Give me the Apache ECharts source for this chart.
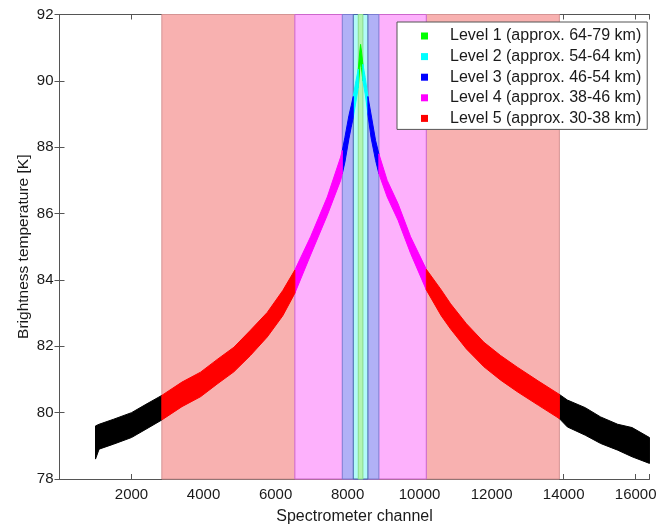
<!DOCTYPE html>
<html>
<head>
<meta charset="utf-8">
<script src="https://cdn.jsdelivr.net/npm/echarts@6/dist/echarts.min.js"></script>
<style>html,body{margin:0;padding:0;background:#fff}#c{width:667px;height:527px}</style>
</head>
<body>
<div id="c"></div>
<script>
// Spectrometer channel sample points with the upper / lower edge of the noisy trace (K)
const channel = [1000,1100,1500,2000,2400,2842,3400,3917,4400,4842,5300,5769,6200,6536,6972,7436,7806,7853,7926,8036,8100,8158,8220,8297,8340,8361,8385,8425,8490,8564,8650,8778,8869,9100,9400,9750,10186,10600,10861,11300,11787,12250,12713,13300,13881,14103,14600,15028,15500,15900,16383];
const upper = [79.60,79.65,79.80,80.00,80.25,80.52,80.92,81.22,81.62,81.97,82.48,83.02,83.68,84.30,85.30,86.50,87.70,87.90,88.30,88.95,89.25,89.53,89.93,90.35,90.90,91.10,90.90,90.50,90.10,89.53,89.00,88.20,87.80,87.00,86.30,85.30,84.32,83.70,83.28,82.68,82.12,81.72,81.37,80.95,80.55,80.38,80.15,79.87,79.65,79.55,79.25];
const lower = [78.60,78.90,79.05,79.25,79.50,79.78,80.18,80.48,80.88,81.23,81.72,82.28,82.92,83.60,84.75,85.95,87.00,87.20,87.55,88.25,88.60,88.90,89.30,89.80,90.40,90.60,90.40,90.00,89.60,89.00,88.30,87.60,87.20,86.50,85.80,84.80,83.70,82.92,82.52,81.92,81.38,80.98,80.63,80.22,79.82,79.57,79.32,79.07,78.87,78.67,78.47];

// Altitude levels and their channel ranges
const levelNames = ['Level 1 (approx. 64-79 km)','Level 2 (approx. 54-64 km)','Level 3 (approx. 46-54 km)','Level 4 (approx. 38-46 km)','Level 5 (approx. 30-38 km)'];
const bandStart = [8297, 8158, 7853, 6536, 2842];
const bandEnd = [8425, 8564, 8869, 10186, 13881];

// Axis ticks
const xTicks = [2000,4000,6000,8000,10000,12000,14000,16000];
const yTicks = [78,80,82,84,86,88,90,92];

const levelColors = ['#00FF00','#00FFFF','#0000FF','#FF00FF','#FF0000'];
const bandFill = ['#B2F4B2','#B2FAF8','#B1B1F6','#FDB1FC','#F8B1B0'];
const bandEdge = ['#8ADB8A','#4466AA','#7C7CD2','#CC66CC','#D49494'];
const xMin = 0, xMax = 16384, yMin = 78, yMax = 92;

function levelOf(ch){
  for (let i = 0; i < bandStart.length; i++) if (ch >= bandStart[i] && ch <= bandEnd[i]) return i;
  return -1;
}
// group consecutive intervals into segments by level
const segs = {};
let cur = null;
for (let k = 0; k < channel.length - 1; k++) {
  const lv = levelOf((channel[k] + channel[k+1]) / 2);
  if (cur && cur.lv === lv) { cur.e = k + 1; }
  else { cur = {lv: lv, s: k, e: k + 1}; (segs[lv] = segs[lv] || []).push(cur); }
}

function traceSeries(name, lv, color){
  return {
    type: 'custom', name: name, z: 3,
    itemStyle: {color: color},
    xAxisIndex: 0, yAxisIndex: 0,
    data: (segs[lv] || []).map(s => [s.s, s.e]),
    encode: {x: 0, y: 1},
    renderItem: function(params, api){
      const s = api.value(0), e = api.value(1);
      const pts = [];
      for (let k = s; k <= e; k++) pts.push(api.coord([channel[k], upper[k]]));
      for (let k = e; k >= s; k--) pts.push(api.coord([channel[k], lower[k]]));
      return {type: 'polygon', shape: {points: pts}, style: {fill: color, stroke: color, lineWidth: 1}};
    }
  };
}

const series = [{
  type: 'custom', name: 'bands', z: 1, silent: true,
  data: [4,3,2,1,0].map(i => [bandStart[i], bandEnd[i], i]),
  encode: {x: 0, y: 1},
  renderItem: function(params, api){
    const i = api.value(2);
    const p0 = api.coord([api.value(0), yMax]);
    const p1 = api.coord([api.value(1), yMin]);
    return {type: 'rect', shape: {x: p0[0], y: p0[1], width: p1[0]-p0[0], height: p1[1]-p0[1]},
      style: {fill: bandFill[i], stroke: bandEdge[i], lineWidth: 1}};
  }
}];
series.push(traceSeries('baseline', -1, '#000000'));
for (let i = 0; i < 5; i++) series.push(traceSeries(levelNames[i], i, levelColors[i]));

const font = "'Liberation Sans', Arial, Helvetica, sans-serif";
const axisCol = '#555555';
const txt = '#1a1a1a';

const chart = echarts.init(document.getElementById('c'), null, {renderer: 'canvas'});
chart.setOption({
  animation: false,
  backgroundColor: '#ffffff',
  textStyle: {fontFamily: font},
  grid: {left: 59.5, right: 17.5, top: 14.5, bottom: 48, containLabel: false, outerBoundsMode: 'none'},
  legend: {
    data: levelNames, orient: 'vertical', left: 397, top: 22,
    icon: 'rect', itemWidth: 7, itemHeight: 7, itemGap: 4.6,
    padding: [6, 6, 3, 24],
    backgroundColor: '#ffffff', borderColor: axisCol, borderWidth: 1,
    selectedMode: false,
    textStyle: {fontFamily: font, fontSize: 16, color: txt, lineHeight: 16, padding: [0,0,0,17]}
  },
  xAxis: [{
    type: 'value', min: xMin, max: xMax, interval: 2000, position: 'bottom',
    name: 'Spectrometer channel', nameLocation: 'middle', nameGap: 30, nameMoveOverlap: false,
    nameTextStyle: {fontFamily: font, fontSize: 16, color: txt},
    axisLine: {show: true, lineStyle: {color: axisCol}},
    axisTick: {show: true, inside: true, length: 5, lineStyle: {color: axisCol}},
    axisLabel: {fontFamily: font, fontSize: 15, color: txt, margin: 8,
      formatter: v => xTicks.indexOf(v) >= 0 ? String(v) : ''},
    splitLine: {show: false}
  }, {
    type: 'value', min: xMin, max: xMax, interval: 2000, position: 'top',
    axisLine: {show: true, lineStyle: {color: axisCol}},
    axisTick: {show: true, inside: true, length: 5, lineStyle: {color: axisCol}},
    axisLabel: {show: false}, splitLine: {show: false}
  }],
  yAxis: [{
    type: 'value', min: yMin, max: yMax, interval: 2, position: 'left',
    name: 'Brightness temperature [K]', nameLocation: 'middle', nameGap: 28, nameMoveOverlap: false,
    nameTextStyle: {fontFamily: font, fontSize: 15.5, color: txt},
    axisLine: {show: true, lineStyle: {color: axisCol}},
    axisTick: {show: true, inside: true, length: 5, lineStyle: {color: axisCol}},
    axisLabel: {fontFamily: font, fontSize: 15, color: txt, margin: 6,
      formatter: v => yTicks.indexOf(v) >= 0 ? String(v) : ''},
    splitLine: {show: false}
  }, {
    type: 'value', min: yMin, max: yMax, interval: 2, position: 'right',
    axisLine: {show: true, lineStyle: {color: axisCol}},
    axisTick: {show: true, inside: true, length: 5, lineStyle: {color: axisCol}},
    axisLabel: {show: false}, splitLine: {show: false}
  }],
  series: series
});
</script>
</body>
</html>
